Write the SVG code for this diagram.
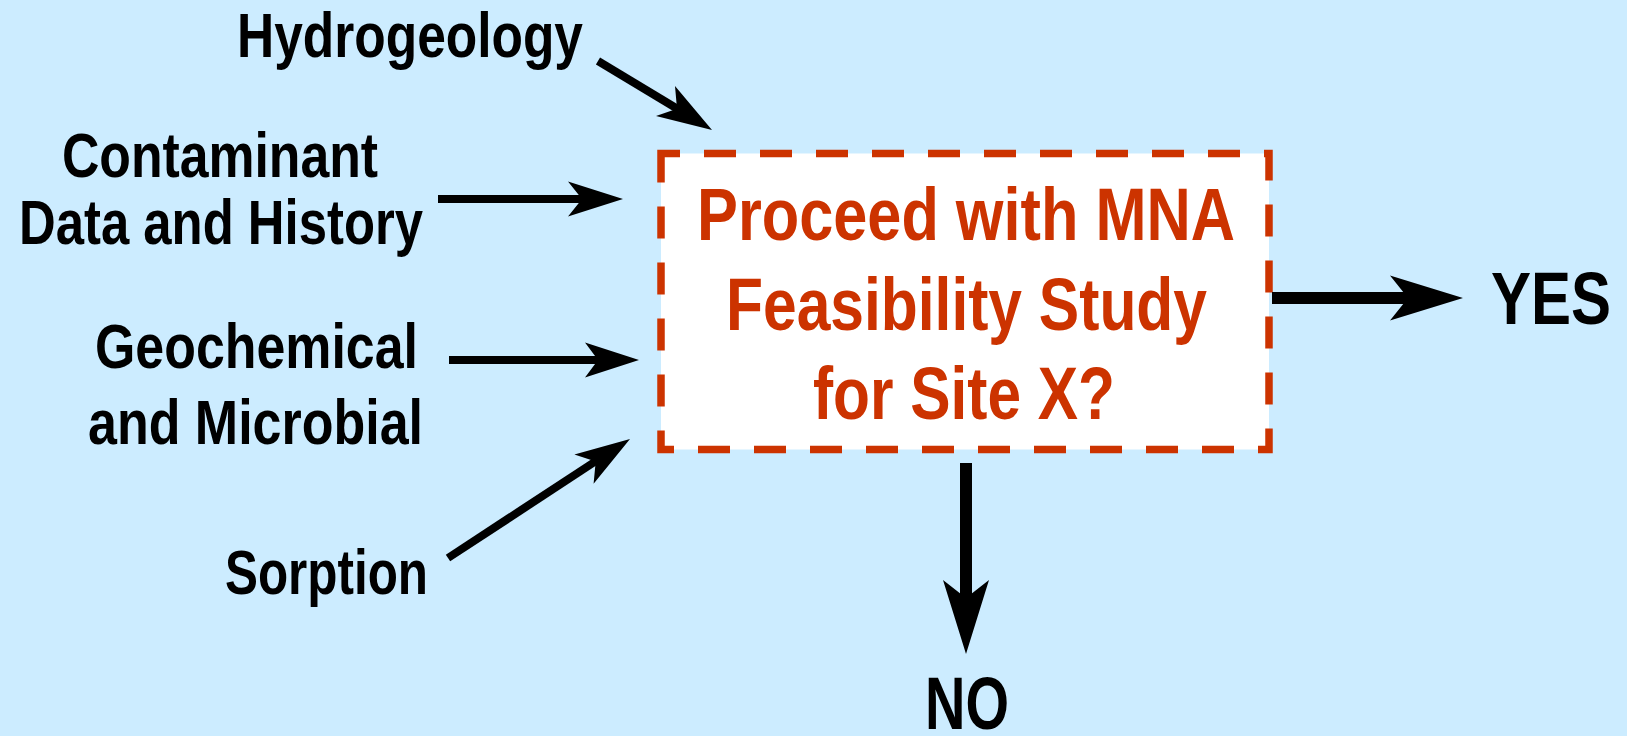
<svg xmlns="http://www.w3.org/2000/svg" width="1627" height="736" viewBox="0 0 1627 736">
  <style>
    .bg { fill: #CCECFF; }
    .label { font-family: "Liberation Sans Narrow", "Arial Narrow", "Liberation Sans", Arial, sans-serif; font-weight: bold; fill: #000; text-anchor: middle; }
    .input { font-size: 63px; }
    .outcome { font-size: 74px; }
    .question { font-family: "Liberation Sans Narrow", "Arial Narrow", "Liberation Sans", Arial, sans-serif; font-weight: bold; font-size: 74px; fill: #CC3300; text-anchor: middle; }
    .box { fill: #FFFFFF; stroke: #CC3300; stroke-width: 7.5; stroke-dasharray: 32 24; stroke-dashoffset: 13; }
    .shaft { stroke: #000; stroke-width: 8; stroke-linecap: butt; fill: none; }
    .shaft-bold { stroke: #000; stroke-width: 12; stroke-linecap: butt; fill: none; }
    .head { fill: #000; stroke: none; }
  </style>

  <rect class="bg" x="0" y="0" width="1627" height="736"/>

  <!-- input factors -->
  <g id="hydrogeology">
    <text class="label input" x="410" y="57" textLength="346" lengthAdjust="spacingAndGlyphs">Hydrogeology</text>
  </g>
  <g id="contaminant">
    <text class="label input" x="220" y="177" textLength="316" lengthAdjust="spacingAndGlyphs">Contaminant</text>
    <text class="label input" x="221" y="244" textLength="404" lengthAdjust="spacingAndGlyphs">Data and History</text>
  </g>
  <g id="geochemical">
    <text class="label input" x="256.5" y="368" textLength="323" lengthAdjust="spacingAndGlyphs">Geochemical</text>
    <text class="label input" x="255.5" y="444" textLength="335" lengthAdjust="spacingAndGlyphs">and Microbial</text>
  </g>
  <g id="sorption">
    <text class="label input" x="326.5" y="594" textLength="203" lengthAdjust="spacingAndGlyphs">Sorption</text>
  </g>

  <!-- decision box -->
  <g id="decision">
    <rect class="box" x="661" y="153.5" width="608" height="296"/>
    <text class="question" x="966" y="240" textLength="538" lengthAdjust="spacingAndGlyphs">Proceed with MNA</text>
    <text class="question" x="966.5" y="330" textLength="481" lengthAdjust="spacingAndGlyphs">Feasibility Study</text>
    <text class="question" x="964" y="419" textLength="302" lengthAdjust="spacingAndGlyphs">for Site X?</text>
  </g>

  <!-- outcomes -->
  <g id="yes">
    <text class="label outcome" x="1551" y="324" textLength="120" lengthAdjust="spacingAndGlyphs">YES</text>
  </g>
  <g id="no">
    <text class="label outcome" x="967" y="729" font-size="70" textLength="84" lengthAdjust="spacingAndGlyphs">NO</text>
  </g>

  <!-- connectors -->
  <g id="connectors">
    <line class="shaft" x1="598" y1="61" x2="681" y2="111"/>
    <polygon class="head" points="712,130 675,86 677,108.8 656,116"/>

    <line class="shaft" x1="438" y1="199" x2="586" y2="199"/>
    <polygon class="head" points="623,199 568,181.5 582,199 568,216.5"/>

    <line class="shaft" x1="449" y1="360" x2="602" y2="360"/>
    <polygon class="head" points="639,360 585,342.5 598,360 585,377.5"/>

    <line class="shaft" x1="448" y1="558" x2="599" y2="459"/>
    <polygon class="head" points="630,439 574.4,454.5 595.7,461.4 593.6,483.7"/>

    <line class="shaft-bold" x1="1272" y1="298" x2="1412" y2="298"/>
    <polygon class="head" points="1463,298 1390,275.5 1408,298 1390,320.5"/>

    <line class="shaft-bold" x1="966" y1="463" x2="966" y2="602"/>
    <polygon class="head" points="966,654 943,580 966,598 989,580"/>
  </g>
</svg>
